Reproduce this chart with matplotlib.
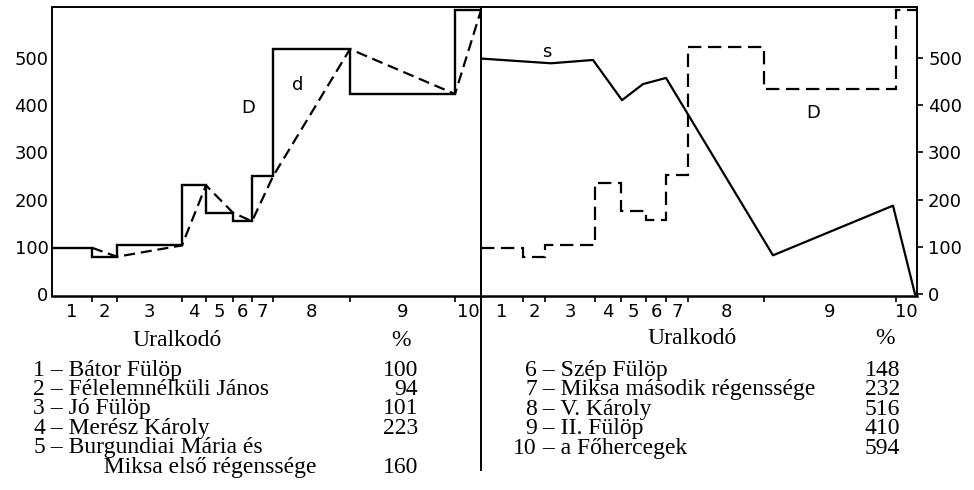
import matplotlib
matplotlib.use("Agg")
import matplotlib.pyplot as plt
from matplotlib.lines import Line2D

# ---------------- data ----------------
period_labels = ["1", "2", "3", "4", "5", "6", "7", "8", "9", "10"]
# period boundaries (horizontal units of each panel, as drawn)
left_edges = [0, 40, 65, 130, 154, 181, 200, 221, 298, 403, 429]
right_edges = [0, 42, 64, 114, 140, 165, 185, 207, 283, 415, 436]
# index D as drawn in each panel (%)
D_left = [98, 79, 103, 230, 172, 154, 249, 518, 423, 600]
D_right = [98, 79, 104, 234, 176, 156, 252, 522, 433, 600]
# curve s (right panel)
s_x = [0, 70, 112, 141, 162, 185, 292, 412, 434]
s_y = [498, 488, 495, 410, 444, 457, 82, 187, 0]
y_ticks = [0, 100, 200, 300, 400, 500]

rulers_left = ["Bátor Fülöp", "Félelemnélküli János", "Jó Fülöp", "Merész Károly",
               "Burgundiai Mária és"]
rulers_left_extra = "Miksa első régenssége"
pct_left = ["100", "94", "101", "223", "160"]
rulers_right = ["Szép Fülöp", "Miksa második régenssége", "V. Károly", "II. Fülöp",
                "a Főhercegek"]
pct_right = ["148", "232", "516", "410", "594"]

# ---------------- figure ----------------
W, H = 974, 490
fig = plt.figure(figsize=(W / 100, H / 100), dpi=100)


def fx(px):
    return px / W


def fy(py):
    return 1 - py / H


TICKFONT = dict(family="DejaVu Sans", size=13)
SERIF = dict(family="Liberation Serif", size=17)
LS = 0.90
YMIN, YMAX = -4, 607

ax1 = fig.add_axes([fx(52), fy(296), fx(481) - fx(52), fy(7) - fy(296)])
ax2 = fig.add_axes([fx(481), fy(296), fx(917) - fx(481), fy(7) - fy(296)])

for ax, edges in ((ax1, left_edges), (ax2, right_edges)):
    ax.set_ylim(YMIN, YMAX)
    ax.set_xlim(edges[0], edges[-1])
    for sp in ax.spines.values():
        sp.set_linewidth(1.4)
        sp.set_color("black")
    ax.spines["bottom"].set_linewidth(1.8)
    ax.set_xticks(edges[1:-1])
    ax.set_xticklabels([])
    centers = [(a + b) / 2 for a, b in zip(edges[:-1], edges[1:])]
    ax.set_xticks(centers, minor=True)
    ax.set_xticklabels(period_labels, minor=True, fontdict=TICKFONT)
    ax.tick_params(axis="x", which="major", direction="out", length=4, width=1.2)
    ax.tick_params(axis="x", which="minor", length=0, pad=5)

# left panel y axis: labels on the left, small marks on the divider
ax1.set_yticks(y_ticks)
ax1.set_yticklabels([str(v) for v in y_ticks], fontdict=TICKFONT)
ax1.tick_params(axis="y", which="major", left=False, right=True, direction="out",
                length=2.5, width=1.2, pad=0)

# right panel y axis on the right
ax2.yaxis.tick_right()
ax2.set_yticks(y_ticks)
ax2.set_yticklabels([str(v) for v in y_ticks], fontdict=TICKFONT)
ax2.tick_params(axis="y", which="major", direction="out", length=4, width=1.2, pad=4,
                left=False, labelleft=False)

# left panel: D steps (solid) and d (dashed, through period ends)
ax1.stairs(D_left, left_edges, baseline=None, color="black", linewidth=1.7)
ax1.plot(left_edges[1:], D_left, color="black", linewidth=1.6,
         linestyle=(0, (5, 2.6)), solid_capstyle="butt")

# right panel: D steps (dashed) and s (solid)
ax2.stairs(D_right, right_edges, baseline=None, color="black", linewidth=1.6,
           linestyle=(0, (6, 3)))
ax2.plot(s_x, s_y, color="black", linewidth=1.6)

# in-plot labels
fig.text(fx(248), fy(108), "D", ha="center", va="center", **TICKFONT)
fig.text(fx(298), fy(85), "d", ha="center", va="center", **TICKFONT)
fig.text(fx(547), fy(52), "s", ha="center", va="center", **TICKFONT)
fig.text(fx(813), fy(113), "D", ha="center", va="center", **TICKFONT)

# divider continuing below the panels
fig.add_artist(Line2D([fx(481), fx(481)], [fy(296), fy(470)], color="black",
                      linewidth=1.4, transform=fig.transFigure))

# ---------------- table ----------------
fig.text(fx(177), fy(340), "Uralkodó", ha="center", va="center", **SERIF)
fig.text(fx(401), fy(340), "%", ha="center", va="center", **SERIF)
fig.text(fx(692), fy(339), "Uralkodó", ha="center", va="center", **SERIF)
fig.text(fx(885), fy(339), "%", ha="center", va="center", **SERIF)

TOP_L = 359.5  # top of first table row (px from top)
TOP_R = 360

# left table
nums_l = "\n".join(str(i + 1) for i in range(len(rulers_left)))
names_l = "\n".join(f" – {n}" for n in rulers_left) + "\n" + " " * 10 + rulers_left_extra
pcts_l = "\n".join(pct_left[:4]) + "\n\n" + pct_left[4]
fig.text(fx(45), fy(TOP_L), nums_l, ha="right", va="top", multialignment="right",
         linespacing=LS, **SERIF)
fig.text(fx(45), fy(TOP_L), names_l, ha="left", va="top", multialignment="left",
         linespacing=LS, **SERIF)
fig.text(fx(418), fy(TOP_L), pcts_l, ha="right", va="top", multialignment="right",
         linespacing=LS, **SERIF)

# right table
nums_r = "\n".join(str(i + 6) for i in range(len(rulers_right)))
names_r = "\n".join(f" – {n}" for n in rulers_right)
pcts_r = "\n".join(pct_right)
fig.text(fx(537), fy(TOP_R), nums_r, ha="right", va="top", multialignment="right",
         linespacing=LS, **SERIF)
fig.text(fx(537), fy(TOP_R), names_r, ha="left", va="top", multialignment="left",
         linespacing=LS, **SERIF)
fig.text(fx(900), fy(TOP_R), pcts_r, ha="right", va="top", multialignment="right",
         linespacing=LS, **SERIF)

fig.savefig("out.png", dpi=100)
